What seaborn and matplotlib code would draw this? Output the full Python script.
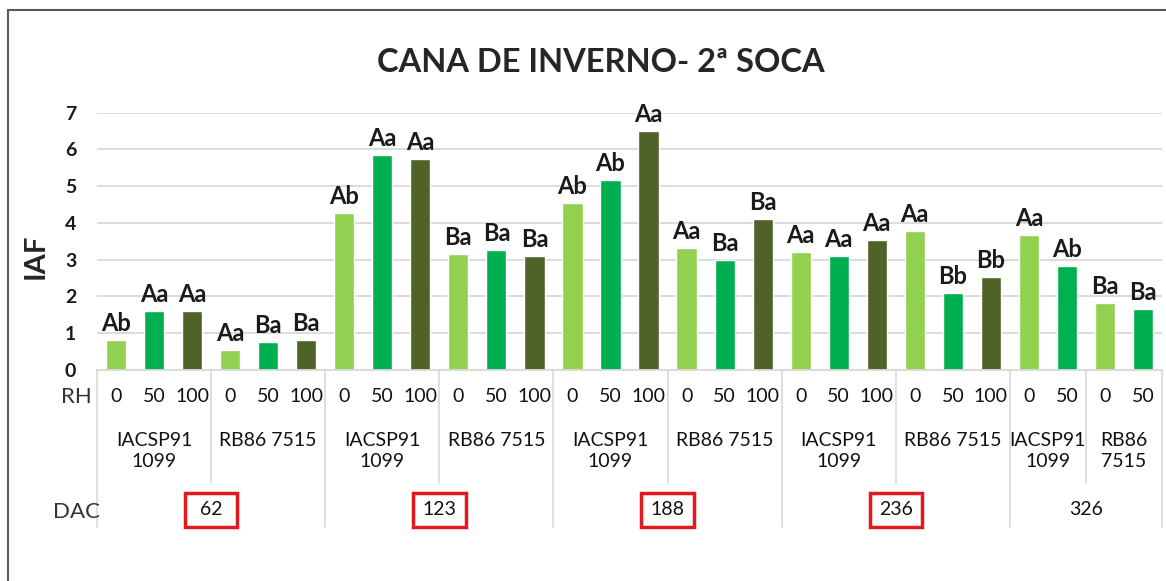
#!/usr/bin/env python3
"""IAF da cana de inverno (2a soca) por DAC, cultivar e RH."""

import pandas as pd
import matplotlib
matplotlib.use('Agg')
import matplotlib.pyplot as plt
from matplotlib.patches import Rectangle
from matplotlib.transforms import blended_transform_factory
import seaborn as sns

# --- data ---
dac = ['62', '123', '188', '236', '326']
rh_levels = ['0', '50', '100']
cultivar_labels = ['IACSP91\n1099', 'RB86 7515']
cultivar_labels_326 = ['IACSP91\n1099', 'RB86\n7515']
boxed_dac = ['62', '123', '188', '236']

iaf_62 = [0.82, 1.60, 1.60, 0.54, 0.77, 0.82]
iaf_123 = [4.28, 5.85, 5.73, 3.16, 3.27, 3.10]
iaf_188 = [4.55, 5.17, 6.51, 3.33, 2.99, 4.12]
iaf_236 = [3.22, 3.11, 3.54, 3.77, 2.10, 2.54]
iaf_326 = [3.66, 2.83, 1.82, 1.65]

letters_62 = ['Ab', 'Aa', 'Aa', 'Aa', 'Ba', 'Ba']
letters_123 = ['Ab', 'Aa', 'Aa', 'Ba', 'Ba', 'Ba']
letters_188 = ['Ab', 'Ab', 'Aa', 'Aa', 'Ba', 'Ba']
letters_236 = ['Aa', 'Aa', 'Aa', 'Aa', 'Bb', 'Bb']
letters_326 = ['Aa', 'Ab', 'Ba', 'Ba']

colors = {'0': '#92d050', '50': '#00b050', '100': '#4f6228'}


def build_table() -> pd.DataFrame:
    values = [iaf_62, iaf_123, iaf_188, iaf_236, iaf_326]
    letters = [letters_62, letters_123, letters_188, letters_236, letters_326]
    rows = []
    for d, vals, lets in zip(dac, values, letters):
        n = len(vals) // 2
        for c in range(2):
            for k in range(n):
                rows.append(dict(dac=d, cultivar=c, rh=rh_levels[k],
                                 iaf=vals[c * n + k], letter=lets[c * n + k]))
    df = pd.DataFrame(rows)
    df['slot'] = [f'{r.dac}-{r.cultivar}-{r.rh}' for r in df.itertuples()]
    return df


def main():
    df = build_table()

    sns.set_theme(style='white')
    plt.rcParams['font.family'] = ['Lato', 'DejaVu Sans']

    fig = plt.figure(figsize=(11.66, 5.81), dpi=100)
    ax = fig.add_axes([0.0832, 0.3632, 0.9134, 0.4428])

    sns.barplot(data=df, x='slot', y='iaf', hue='rh', palette=colors,
                dodge=False, width=0.53, saturation=1, legend=False, ax=ax)

    ax.set_xlim(-0.5, len(df) - 0.5)
    ax.set_ylim(0, 7)
    ax.set_yticks(range(8))
    ax.set_yticklabels([str(v) for v in range(8)], fontsize=14, fontweight='bold',
                       color='#1a1a1a')
    ax.tick_params(axis='y', length=0, pad=15)
    ax.set_xticks([])
    ax.set_xlabel('')
    ax.set_ylabel('')
    ax.yaxis.grid(True, color='#d9d9d9', lw=1.3)
    ax.set_axisbelow(True)
    for side in ['left', 'right', 'top']:
        ax.spines[side].set_visible(False)
    ax.spines['bottom'].set_color('#d9d9d9')
    ax.spines['bottom'].set_linewidth(1.3)

    # letters above bars
    for i, r in enumerate(df.itertuples()):
        ax.annotate(r.letter, (i, r.iaf), xytext=(0, 6.5), textcoords='offset points',
                    ha='center', va='baseline', fontsize=17, fontweight='bold',
                    color='#1a1a1a')

    # hierarchical category axis
    trans = blended_transform_factory(ax.transData, ax.transAxes)
    line_kw = dict(transform=trans, clip_on=False, color='#d9d9d9', lw=1.2)
    n = len(df)
    for i in range(n + 1):
        if i == 0 or i == n or df.dac[i] != df.dac[i - 1]:
            ax.plot([i - 0.5, i - 0.5], [0, -0.61], **line_kw)
        elif df.cultivar[i] != df.cultivar[i - 1]:
            ax.plot([i - 0.5, i - 0.5], [0, -0.439], **line_kw)

    for i, r in enumerate(df.itertuples()):
        ax.text(i, -0.105, r.rh, transform=trans, ha='center', va='center',
                fontsize=14, color='#111111')

    for (d, c), grp in df.groupby(['dac', 'cultivar'], sort=False):
        labels = cultivar_labels_326 if d == '326' else cultivar_labels
        ax.text(grp.index.to_numpy().mean(), -0.24, labels[c], transform=trans,
                ha='center', va='top', fontsize=14, linespacing=1.3, color='#111111')

    for d, grp in df.groupby('dac', sort=False):
        xc = grp.index.to_numpy().mean()
        ax.text(xc, -0.544, d, transform=trans, ha='center', va='center',
                fontsize=14, color='#111111')
        if d in boxed_dac:
            ax.add_patch(Rectangle((xc - 0.69, -0.61), 1.38, 0.132, transform=trans,
                                   fill=False, edgecolor='#e3191f', lw=2.5,
                                   clip_on=False))

    ax.text(-0.0047, -0.105, 'RH', transform=ax.transAxes, ha='right', va='center',
            fontsize=16, color='#333333')
    ax.text(0.003, -0.552, 'DAC', transform=ax.transAxes, ha='right', va='center',
            fontsize=16, color='#333333')

    fig.text(36 / 1166, 1 - 256 / 581, 'IAF', rotation=90, ha='center', va='center',
             fontsize=21, fontweight='bold')
    fig.text(601 / 1166, 1 - 63 / 581, 'CANA DE INVERNO- 2ª SOCA', ha='center',
             va='center', fontsize=23.5, fontweight='bold')

    # outer chart frame (only left and top edges fall inside the picture)
    fig.add_artist(Rectangle((8 / 1166, -0.05), 1.1, 1.05 - 10 / 581,
                             transform=fig.transFigure, fill=False,
                             edgecolor='#595959', lw=1.5))

    fig.savefig('out.png', dpi=100)


if __name__ == "__main__":
    main()
